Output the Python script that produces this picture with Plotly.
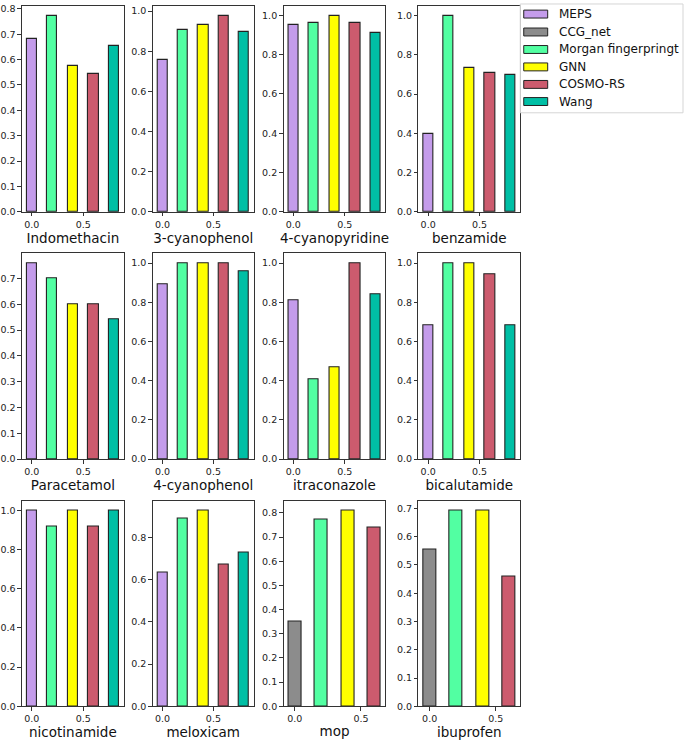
import plotly.graph_objects as go

# ---------------- data ----------------
compounds = ["Indomethacin", "3-cyanophenol", "4-cyanopyridine", "benzamide",
             "Paracetamol", "4-cyanophenol", "itraconazole", "bicalutamide",
             "nicotinamide", "meloxicam", "mop", "ibuprofen"]

methods = ["MEPS", "CCG_net", "Morgan fingerpringt", "GNN", "COSMO-RS", "Wang"]

MEPS = [0.683, 0.759, 0.95, 0.399, 0.76, 0.891, 0.81, 0.681, 1.0, 0.634, None, None]
CCG_net = [None, None, None, None, None, None, None, None, None, None, 0.35, 0.553]
Morgan = [0.773, 0.908, 0.96, 1.0, 0.70, 1.0, 0.408, 1.0, 0.919, 0.892, 0.770, 0.693]
GNN = [0.574, 0.931, 0.998, 0.732, 0.601, 1.0, 0.469, 1.0, 1.0, 0.929, 0.81, 0.693]
COSMO_RS = [0.543, 0.977, 0.96, 0.708, 0.601, 1.0, 1.0, 0.943, 0.919, 0.671, 0.740, 0.459]
Wang = [0.653, 0.898, 0.909, 0.698, 0.543, 0.96, 0.842, 0.681, 1.0, 0.731, None, None]

series = [MEPS, CCG_net, Morgan, GNN, COSMO_RS, Wang]
colors = ["#C49CEB", "#8C8C8C", "#52FFA2", "#FFFF00", "#CC5B6E", "#00BFA5"]

# ---------------- layout helpers ----------------
W, H = 685, 744
col_px = [(21, 123), (152, 253), (283, 385), (418, 520)]
row_px = [(3, 211), (253, 461), (503, 711)]
FONT = "DejaVu Sans"
AX = "#333333"

fig = go.Figure()
layout = {}

for i, comp in enumerate(compounds):
    r, c = divmod(i, 4)
    present = [(methods[j], series[j][i], colors[j]) for j in range(len(methods))
               if series[j][i] is not None]
    n = len(present)
    xs = [0.2 * k for k in range(n)]
    ys = [p[1] for p in present]
    cols = [p[2] for p in present]
    sfx = "" if i == 0 else str(i + 1)
    fig.add_trace(go.Bar(
        x=xs, y=ys, width=0.1,
        marker=dict(color=cols, line=dict(color="#222222", width=1.1)),
        xaxis="x" + sfx, yaxis="y" + sfx, showlegend=False,
        hovertext=[p[0] for p in present]))

    span = xs[-1] + 0.1
    xr = [-0.05 - 0.05 * span, xs[-1] + 0.05 + 0.05 * span]
    ymax = max(ys) * 1.05
    dt = 0.1 if ymax < 0.9 else 0.2

    x0, x1 = col_px[c]
    y0, y1 = row_px[r]
    layout["xaxis" + sfx] = dict(
        domain=[x0 / W, x1 / W], anchor="y" + sfx, range=xr,
        tickvals=[0.0, 0.5], tickformat=".1f",
        ticks="outside", ticklen=3.5, tickcolor=AX, tickwidth=1,
        showline=True, linecolor=AX, linewidth=1, mirror=True,
        showgrid=False, zeroline=False,
        tickfont=dict(family=FONT, size=9.5, color="#222222"),
        title=dict(text=comp, font=dict(family=FONT, size=13.5, color="#111111"),
                   standoff=3),
        fixedrange=True)
    layout["yaxis" + sfx] = dict(
        domain=[1 - y1 / H, 1 - y0 / H], anchor="x" + sfx, range=[0, ymax],
        dtick=dt, tick0=0, tickformat=".1f",
        ticks="outside", ticklen=3.5, tickcolor=AX, tickwidth=1,
        showline=True, linecolor=AX, linewidth=1, mirror=True,
        showgrid=False, zeroline=False,
        tickfont=dict(family=FONT, size=9.5, color="#222222"),
        fixedrange=True)

# ---------------- manual legend (matplotlib-like) ----------------
shapes = []
annotations = []
lx0, lx1, ly0, ly1 = 520, 683, 1, 111
shapes.append(dict(type="rect", xref="paper", yref="paper",
                   x0=lx0 / W, x1=lx1 / W, y0=1 - ly1 / H, y1=1 - ly0 / H,
                   line=dict(color="#D5D5D5", width=1), fillcolor="rgba(255,255,255,0.8)",
                   layer="above"))
row_c = [11.2, 29.3, 47.0, 64.6, 82.3, 99.6]
for k, (m, col) in enumerate(zip(methods, colors)):
    cy = row_c[k]
    shapes.append(dict(type="rect", xref="paper", yref="paper",
                       x0=523.5 / W, x1=547.5 / W, y0=1 - (cy + 4) / H, y1=1 - (cy - 4) / H,
                       fillcolor=col, line=dict(color="#222222", width=1), layer="above"))
    annotations.append(dict(xref="paper", yref="paper", x=557 / W, y=1 - cy / H,
                            xanchor="left", yanchor="middle", text=m, showarrow=False,
                            font=dict(family=FONT, size=12, color="#111111")))

fig.update_layout(
    width=W, height=H, margin=dict(l=0, r=0, t=0, b=0),
    paper_bgcolor="white", plot_bgcolor="white",
    barmode="overlay", bargap=0,
    shapes=shapes, annotations=annotations,
    font=dict(family=FONT),
    **layout)

fig.write_html("out.html")
